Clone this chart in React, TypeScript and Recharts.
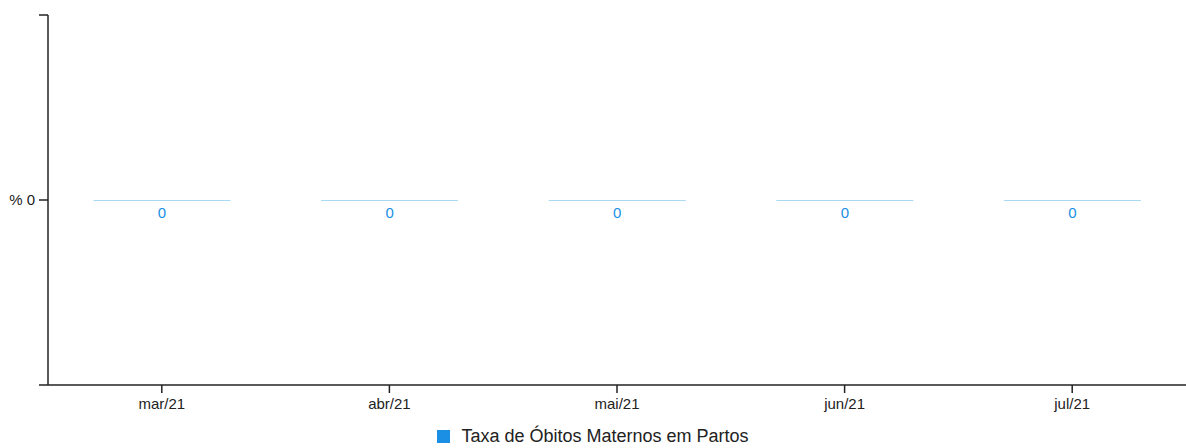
import { BarChart, Bar, XAxis, YAxis, Legend, LabelList } from 'recharts'

const meses = ['mar/21', 'abr/21', 'mai/21', 'jun/21', 'jul/21']
const taxaObitos = [0, 0, 0, 0, 0]
const yTicks = [-1, 0, 1]
const serieNome = 'Taxa de Óbitos Maternos em Partos'

const data = meses.map((mes, i) => ({ mes, taxa: taxaObitos[i] }))

const font = '"Liberation Sans", Arial, sans-serif'
const azul = '#1a8fe3'

// barra com valor 0 vira só uma linha fina no nível do zero
function ZeroLine(props: any) {
  const { x, y, width, height } = props
  if (height > 0) return <rect x={x} y={y} width={width} height={height} fill={azul} />
  return <line x1={x} x2={x + width} y1={y + 0.5} y2={y + 0.5} stroke="#aad9f4" strokeWidth={1} />
}

function Legenda() {
  return (
    <div style={{ display: 'flex', justifyContent: 'center', alignItems: 'center', fontFamily: font }}>
      <span style={{ width: 13, height: 13, background: azul, marginRight: 11, display: 'inline-block' }} />
      <span style={{ color: '#222', fontSize: 18 }}>{serieNome}</span>
    </div>
  )
}

export default function App() {
  return (
    <div style={{ fontFamily: font }}>
      <style>{'body{margin:0}'}</style>
      <BarChart
        width={1186}
        height={448}
        data={data}
        margin={{ top: 15, right: 0, left: 0, bottom: 0 }}
        barCategoryGap="20%"
      >
        <XAxis
          dataKey="mes"
          height={30}
          tickSize={8}
          tickMargin={5}
          tick={{ fontSize: 15, fill: '#222', fontFamily: font }}
          axisLine={{ stroke: '#222', strokeWidth: 1.5 }}
          tickLine={{ stroke: '#222', strokeWidth: 1.5 }}
        />
        <YAxis
          width={48}
          domain={[-1, 1]}
          ticks={yTicks}
          tickSize={9}
          tickMargin={4}
          tickFormatter={(v: number) => (v === 0 ? '% 0' : '')}
          tick={{ fontSize: 15, fill: '#222', fontFamily: font }}
          axisLine={{ stroke: '#222', strokeWidth: 1.5 }}
          tickLine={{ stroke: '#222', strokeWidth: 1.5 }}
        />
        <Legend
          verticalAlign="bottom"
          height={33}
          content={<Legenda />}
          wrapperStyle={{ top: 426, bottom: 'auto' }}
        />
        <Bar dataKey="taxa" name={serieNome} fill={azul} shape={ZeroLine} isAnimationActive={false}>
          <LabelList dataKey="taxa" position="bottom" offset={7} fill={azul} fontSize={15} fontFamily={font} />
        </Bar>
      </BarChart>
    </div>
  )
}
